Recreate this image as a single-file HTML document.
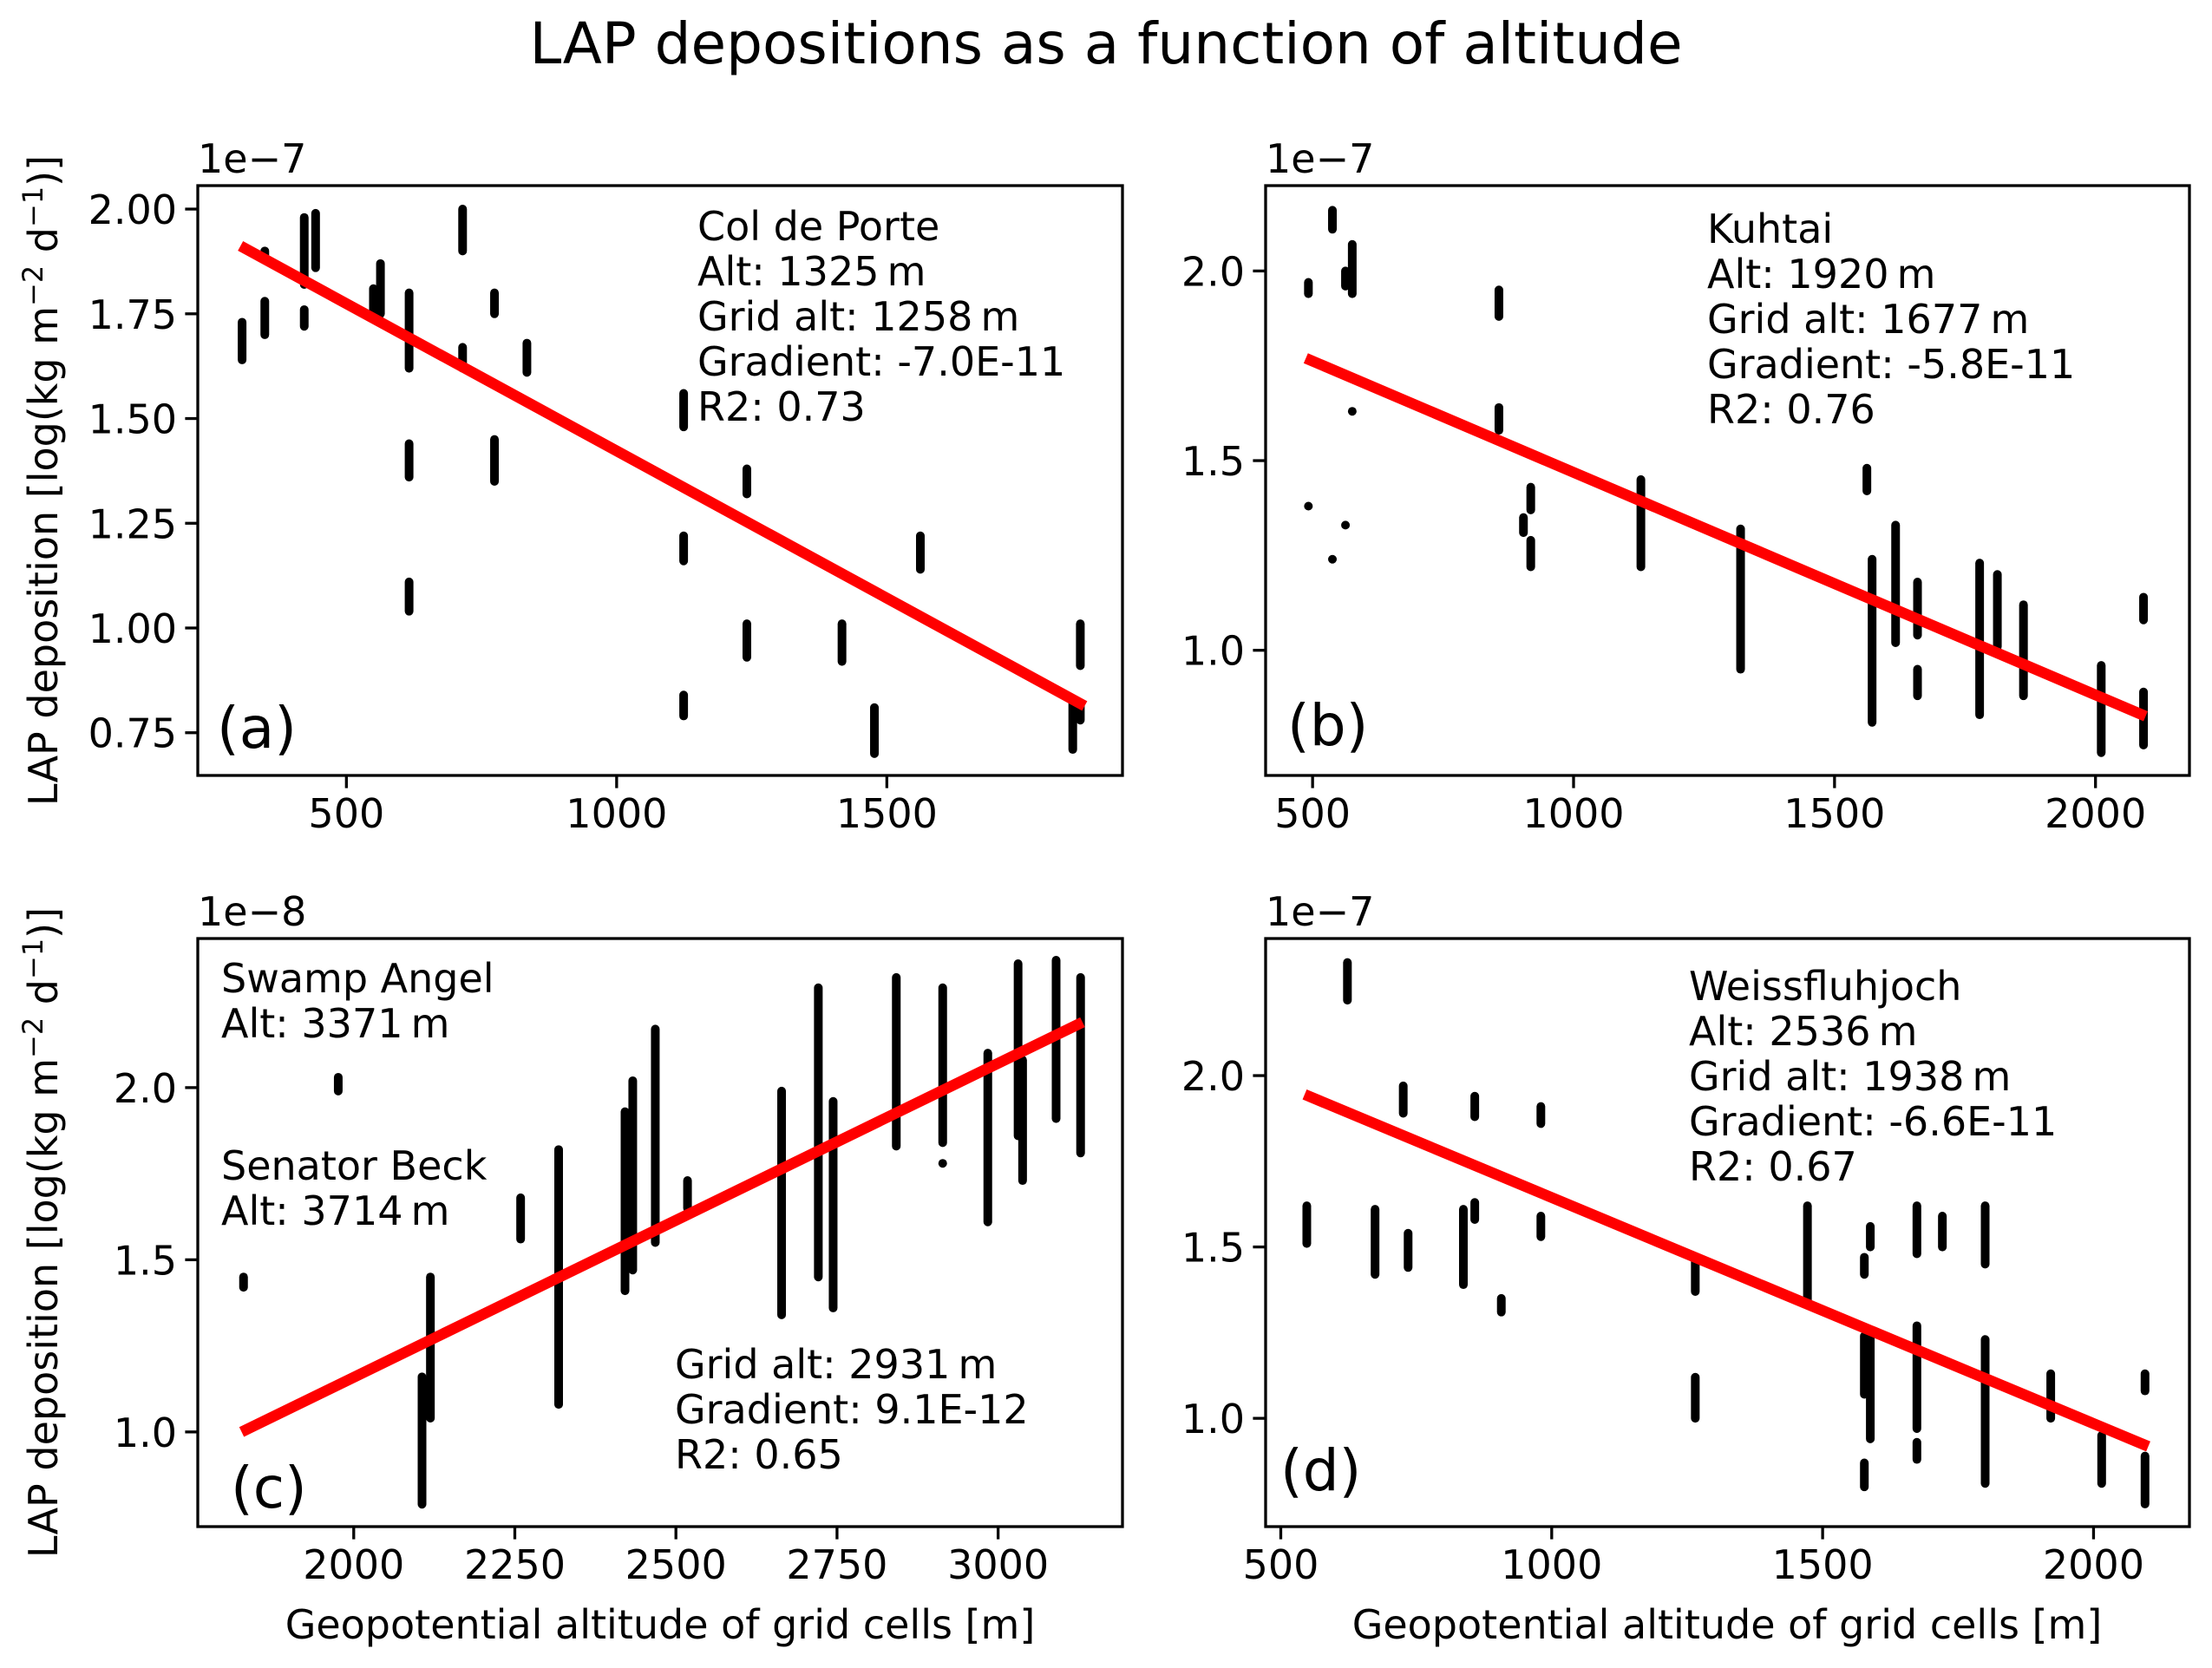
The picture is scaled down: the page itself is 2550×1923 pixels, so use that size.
<!DOCTYPE html>
<html><head><meta charset="utf-8">
<style>
html,body{margin:0;padding:0;background:#fff;}
svg{display:block;}
text{font-family:"DejaVu Sans","Liberation Sans",sans-serif;fill:#000;}
</style></head>
<body>
<svg id="fig" xmlns="http://www.w3.org/2000/svg" width="2550" height="1923" viewBox="0 0 2550 1923">
<rect x="0" y="0" width="2550" height="1923" fill="#fff"/>
<text x="1275" y="73" font-size="66" text-anchor="middle">LAP depositions as a function of altitude</text>
</svg>
<script>
// Panel (a) Col de Porte: [altitude, low, high] (x1e-7)
const aAlt = [307,349,349,422,422,443,550,563,616,616,616,715,715,774,774,834,1124,1124,1124,1241,1241,1417,1477,1562,1844,1858,1858];
const aLo  = [1.64,1.89,1.70,1.82,1.72,1.86,1.75,1.75,1.62,1.36,1.04,1.90,1.62,1.75,1.35,1.61,1.48,1.16,0.79,1.32,0.93,0.92,0.70,1.14,0.71,0.91,0.78];
const aHi  = [1.73,1.90,1.78,1.98,1.76,1.99,1.81,1.87,1.80,1.44,1.11,2.00,1.67,1.80,1.45,1.68,1.56,1.22,0.84,1.38,1.01,1.01,0.81,1.22,0.83,1.01,0.82];
const aFitX = [304,1866];
const aFitY = [1.912,0.814];
// Panel (b) Kuhtai
const bAlt = [492,492,538,538,563,563,576,576,857,857,904,918,918,1129,1320,1562,1572,1617,1659,1659,1778,1812,1862,2011,2092,2092];
const bLo  = [1.94,1.38,2.11,1.24,1.96,1.33,1.94,1.63,1.88,1.58,1.31,1.37,1.22,1.22,0.95,1.42,0.81,1.02,1.04,0.88,0.83,1.01,0.88,0.73,1.08,0.75];
const bHi  = [1.97,1.38,2.16,1.24,2.00,1.33,2.07,1.63,1.95,1.64,1.35,1.43,1.29,1.45,1.32,1.48,1.24,1.33,1.18,0.95,1.23,1.20,1.12,0.96,1.14,0.89];
const bFitX = [487,2096];
const bFitY = [1.77,0.826];
// Panel (c) Swamp Angel / Senator Beck (x1e-8)
const cAlt = [1829,1976,2106,2119,2259,2318,2421,2433,2468,2518,2664,2721,2744,2842,2914,2914,2984,3031,3038,3090,3128];
const cLo  = [1.42,1.99,0.79,1.04,1.56,1.08,1.41,1.47,1.55,1.65,1.34,1.45,1.36,1.83,1.84,1.78,1.61,1.86,1.73,1.91,1.81];
const cHi  = [1.45,2.03,1.16,1.45,1.68,1.82,1.93,2.02,2.17,1.73,1.99,2.29,1.96,2.32,2.29,1.78,2.10,2.36,2.08,2.37,2.32];
const cFitX = [1826,3131];
const cFitY = [1.0,2.19];
// Panel (d) Weissfluhjoch
const dAlt = [623,548,674,726,735,837,858,858,907,980,980,1265,1265,1472,1577,1577,1577,1588,1588,1674,1674,1674,1721,1800,1800,1921,2015,2095,2095];
const dLo  = [2.22,1.51,1.42,1.89,1.44,1.39,1.88,1.58,1.31,1.86,1.53,1.37,1.00,1.33,1.42,1.07,0.80,1.50,0.94,1.48,0.97,0.88,1.50,1.45,0.81,1.00,0.81,1.08,0.75];
const dHi  = [2.33,1.62,1.61,1.97,1.54,1.61,1.94,1.63,1.35,1.91,1.59,1.47,1.12,1.62,1.47,1.24,0.87,1.56,1.24,1.62,1.27,0.93,1.59,1.62,1.23,1.13,0.95,1.13,0.89];
const dFitX = [544,2101];
const dFitY = [1.945,0.918];
// ticks
const aXTicks = [500,1000,1500];
const aYTicks = [0.75,1.00,1.25,1.50,1.75,2.00];
const bXTicks = [500,1000,1500,2000];
const bYTicks = [1.0,1.5,2.0];
const cXTicks = [2000,2250,2500,2750,3000];
const cYTicks = [1.0,1.5,2.0];
const dXTicks = [500,1000,1500,2000];
const dYTicks = [1.0,1.5,2.0];

const FS = 46;
const NS = "http://www.w3.org/2000/svg";
const svg = document.getElementById('fig');
function mk(tag, attrs, parent){
  const e = document.createElementNS(NS, tag);
  for (const k in attrs) e.setAttribute(k, attrs[k]);
  (parent||svg).appendChild(e);
  return e;
}
function panel(id, box, xr, yr, alt, lo, hi, fx, fy, xt, yt, ydec, offset, label, lx, ly, notes){
  const g = mk('g', {});
  
  
  const X = v => box.l + (v - xr[0]) / (xr[1] - xr[0]) * (box.r - box.l);
  const Y = v => box.b - (v - yr[0]) / (yr[1] - yr[0]) * (box.b - box.t);
  for (let i = 0; i < alt.length; i++){
    const s = mk('line', {x1:X(alt[i]), x2:X(alt[i]), y1:Y(lo[i]), y2:Y(hi[i]), stroke:'#000', 'stroke-width':10, 'stroke-linecap':'round'}, g);
    
    
  }
  const fl = mk('line', {x1:X(fx[0]), x2:X(fx[1]), y1:Y(fy[0]), y2:Y(fy[1]), stroke:'#ff0000', 'stroke-width':12.5}, g);
  
  
  const fr = mk('rect', {x:box.l, y:box.t, width:box.r-box.l, height:box.b-box.t, fill:'none', stroke:'#000', 'stroke-width':3.3}, g);
  
  
  xt.forEach(v => {
    const x = X(v);
    mk('line', {x1:x, x2:x, y1:box.b, y2:box.b+14.6, stroke:'#000', 'stroke-width':3.3}, g);
    const t = mk('text', {x:x, y:box.b+60, 'font-size':FS, 'text-anchor':'middle'}, g);
    
    
    t.textContent = String(v);
  });
  yt.forEach(v => {
    const y = Y(v);
    mk('line', {x1:box.l, x2:box.l-14.6, y1:y, y2:y, stroke:'#000', 'stroke-width':3.3}, g);
    const t = mk('text', {x:box.l-24, y:y+17, 'font-size':FS, 'text-anchor':'end'}, g);
    
    
    t.textContent = v.toFixed(ydec);
  });
  const o = mk('text', {x:box.l, y:box.t-15, 'font-size':FS}, g);
  
  
  o.textContent = offset;
  const pl = mk('text', {x:lx, y:ly, 'font-size':66}, g);
  
  
  pl.textContent = label;
  notes.forEach(n => {
    const t = mk('text', {x:n[0], y:n[1], 'font-size':FS}, g);
    
    
    t.textContent = n[2];
  });
}
const A = {l:228,r:1294,t:214,b:894}, B = {l:1459,r:2524,t:214,b:894};
const C = {l:228,r:1294,t:1082,b:1760}, D = {l:1459,r:2524,t:1082,b:1760};
panel('a', A, [225,1936], [0.648,2.056], aAlt, aLo, aHi, aFitX, aFitY, aXTicks, aYTicks, 2, '1e\u22127', '(a)', 250, 862,
  [[804,277,'Col de Porte'],[804,329,'Alt: 1325\u2009m'],[804,381,'Grid alt: 1258\u2009m'],[804,433,'Gradient: -7.0E-11'],[804,485,'R2: 0.73']]);
panel('b', B, [410,2180], [0.670,2.225], bAlt, bLo, bHi, bFitX, bFitY, bXTicks, bYTicks, 1, '1e\u22127', '(b)', 1484, 859,
  [[1968,280,'Kuhtai'],[1968,332,'Alt: 1920\u2009m'],[1968,384,'Grid alt: 1677\u2009m'],[1968,436,'Gradient: -5.8E-11'],[1968,488,'R2: 0.76']]);
panel('c', C, [1758,3193], [0.725,2.433], cAlt, cLo, cHi, cFitX, cFitY, cXTicks, cYTicks, 1, '1e\u22128', '(c)', 266, 1738,
  [[255,1144,'Swamp Angel'],[255,1196,'Alt: 3371\u2009m'],[255,1360,'Senator Beck'],[255,1412,'Alt: 3714\u2009m'],[778,1589,'Grid alt: 2931\u2009m'],[778,1641,'Gradient: 9.1E-12'],[778,1693,'R2: 0.65']]);
panel('d', D, [472,2177], [0.684,2.40], dAlt, dLo, dHi, dFitX, dFitY, dXTicks, dYTicks, 1, '1e\u22127', '(d)', 1476, 1718,
  [[1947,1153,'Weissfluhjoch'],[1947,1205,'Alt: 2536\u2009m'],[1947,1257,'Grid alt: 1938\u2009m'],[1947,1309,'Gradient: -6.6E-11'],[1947,1361,'R2: 0.67']]);
// axis titles
function ylab(cy){
  const t = mk('text', {x:0, y:0, 'font-size':FS, 'text-anchor':'middle', transform:'translate(66,'+cy+') rotate(-90)'});
  
  
  t.innerHTML = 'LAP deposition [log(kg m<tspan font-size="32" dy="-17">\u22122</tspan><tspan dy="17"> d</tspan><tspan font-size="32" dy="-17">\u22121</tspan><tspan dy="17">)]</tspan>';
}
ylab(554); ylab(1421);
function xlab(cx){
  const t = mk('text', {x:cx, y:1889, 'font-size':FS, 'text-anchor':'middle'});
  
  
  t.textContent = 'Geopotential altitude of grid cells [m]';
}
xlab(761); xlab(1991);
</script>
</body></html>
